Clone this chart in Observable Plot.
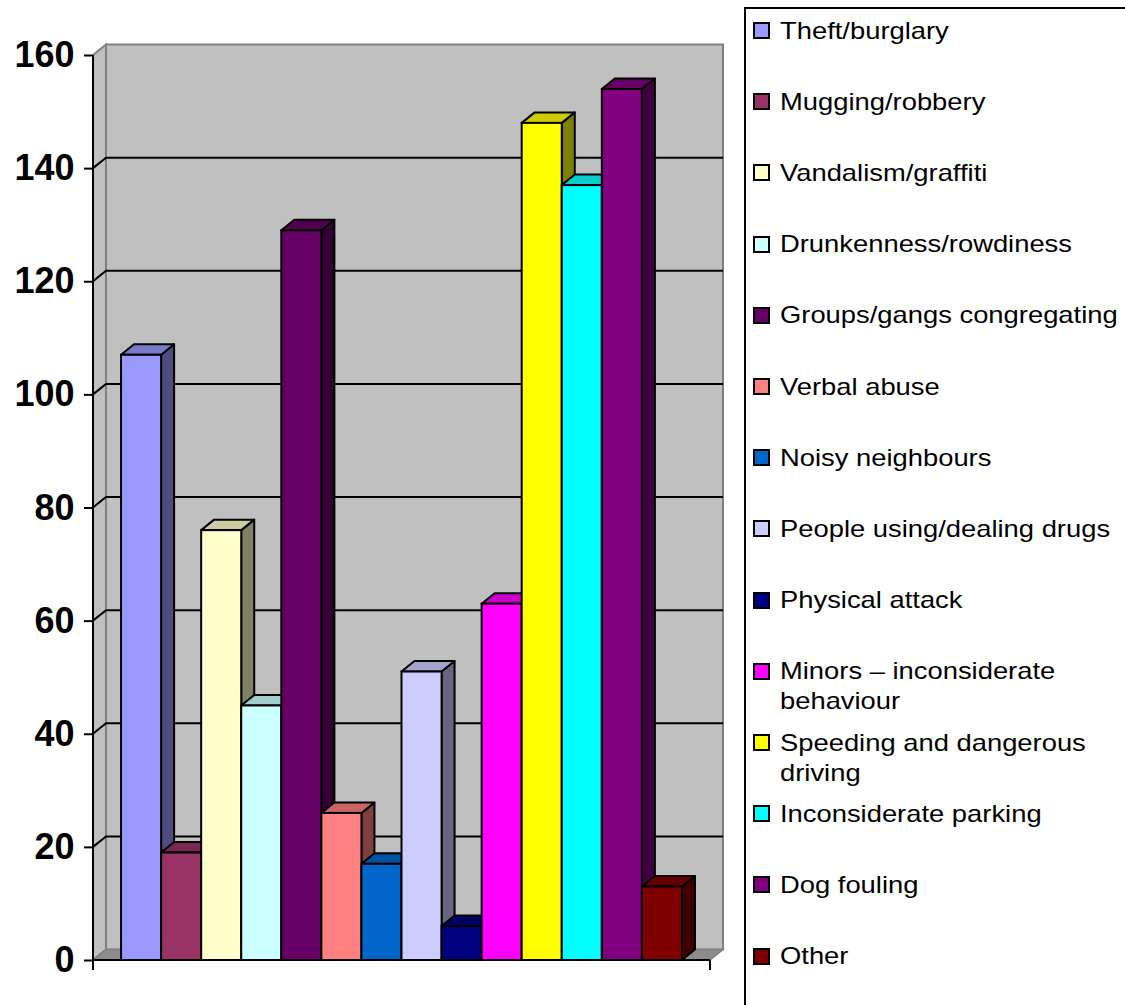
<!DOCTYPE html>
<html><head><meta charset="utf-8">
<script src="https://cdn.jsdelivr.net/npm/d3@7"></script>
<script src="https://cdn.jsdelivr.net/npm/@observablehq/plot@0.6"></script>
<style>
body{margin:0;background:#fff;font-family:"Liberation Sans",Arial,sans-serif;}
#wrap{position:relative;width:1125px;height:1005px;overflow:hidden;background:#fff;}
#chart{position:absolute;left:0;top:0;}
#legend{position:absolute;left:744px;top:7px;width:440px;height:1060px;border:2px solid #000;box-sizing:border-box;}
.sw{position:absolute;left:7px;width:17px;height:17px;border:2px solid #000;box-sizing:border-box;}
.lab{position:absolute;left:34px;width:305px;font-size:24px;line-height:30px;color:#000;transform:scaleX(1.14);transform-origin:0 0;white-space:normal;}
</style></head><body>
<div id="wrap"><div id="chart"></div><div id="legend"></div></div>
<script>
(function(){
const categories = ["Theft/burglary","Mugging/robbery","Vandalism/graffiti","Drunkenness/rowdiness","Groups/gangs congregating","Verbal abuse","Noisy neighbours","People using/dealing drugs","Physical attack","Minors – inconsiderate behaviour","Speeding and dangerous driving","Inconsiderate parking","Dog fouling","Other"];
const values = [107,19,76,45,129,26,17,51,6,63,148,137,154,13];
const colors = ["#9999FF","#993366","#FFFFCC","#CCFFFF","#660066","#FF8080","#0066CC","#CCCCFF","#000080","#FF00FF","#FFFF00","#00FFFF","#800080","#800000"];
const yTicks = [0,20,40,60,80,100,120,140,160];

const data = categories.map((c,i)=>({category:c, value:values[i]}));

const plot = Plot.plot({
  width:745, height:1005,
  marginLeft:93, marginRight:35, marginTop:55, marginBottom:45,
  x:{domain:categories, paddingInner:0, paddingOuter:0.7, round:false, axis:null},
  y:{domain:[0,160], axis:null},
  color:{domain:categories, range:colors},
  style:{fontFamily:'"Liberation Sans",Arial,sans-serif', background:"transparent", overflow:"visible"},
  marks:[
    Plot.axisY(yTicks,{tickSize:9, tickPadding:10, fontSize:36, fontWeight:"bold", strokeWidth:2, label:null, stroke:"#000", fill:"#000"}),
    Plot.barY(data,{x:"category", y:"value", fill:"category", stroke:"#000", strokeWidth:2})
  ]
});
document.getElementById("chart").appendChild(plot);

// 3D decoration using the plot's own scales
const xs = plot.scale("x"), ys = plot.scale("y");
const [X0, X1] = xs.range;
const Y0 = ys.apply(0), Y1 = ys.apply(160);
const DX = 13, DY = -10.5;
const ns = "http://www.w3.org/2000/svg";
const barsG = plot.querySelector('g[aria-label="bar"]');
const backG = document.createElementNS(ns,"g");
plot.insertBefore(backG, barsG);
const g = d3.select(backG);
const poly = pts => pts.map(p=>p.join(",")).join(" ");

g.append("rect").attr("x",X0+DX).attr("y",Y1+DY).attr("width",X1-X0).attr("height",Y0-Y1)
  .attr("fill","#C0C0C0").attr("stroke","#808080").attr("stroke-width",2);
g.append("polygon").attr("points",poly([[X0,Y1],[X0+DX,Y1+DY],[X0+DX,Y0+DY],[X0,Y0]]))
  .attr("fill","#C0C0C0").attr("stroke","#808080").attr("stroke-width",2);
g.append("polygon").attr("points",poly([[X0,Y0],[X0+DX,Y0+DY],[X1+DX,Y0+DY],[X1,Y0]]))
  .attr("fill","#8C8C8C").attr("stroke","#808080").attr("stroke-width",1.5);
yTicks.filter(t=>t>0 && t<160).forEach(t=>{
  const yy = ys.apply(t);
  g.append("polyline").attr("points",poly([[X0,yy],[X0+DX,yy+DY],[X1+DX,yy+DY]]))
   .attr("fill","none").attr("stroke","#000").attr("stroke-width",2);
});
const bw = xs.bandwidth;
const shade = (c,k)=>{const r=d3.rgb(c); return d3.rgb(r.r*k,r.g*k,r.b*k).formatHex();};
data.forEach((d,i)=>{
  const xa = xs.apply(d.category), xb = xa + bw, yv = ys.apply(d.value);
  g.append("polygon").attr("points",poly([[xb,yv],[xb+DX,yv+DY],[xb+DX,Y0+DY],[xb,Y0]]))
   .attr("fill",shade(colors[i],0.5)).attr("stroke","#000").attr("stroke-width",2).attr("stroke-linejoin","round");
});
data.forEach((d,i)=>{
  const xa = xs.apply(d.category), xb = xa + bw, yv = ys.apply(d.value);
  g.append("polygon").attr("points",poly([[xa,yv],[xa+DX,yv+DY],[xb+DX,yv+DY],[xb,yv]]))
   .attr("fill",shade(colors[i],0.8)).attr("stroke","#000").attr("stroke-width",2).attr("stroke-linejoin","round");
});
const axG = d3.select(plot).append("g").attr("stroke","#000").attr("stroke-width",2);
axG.append("line").attr("x1",X0).attr("x2",X0).attr("y1",Y1).attr("y2",Y0+10);
axG.append("line").attr("x1",X0).attr("x2",X1).attr("y1",Y0).attr("y2",Y0);
axG.append("line").attr("x1",X1).attr("x2",X1).attr("y1",Y0).attr("y2",Y0+10);

const legend = document.getElementById("legend");
categories.forEach((c,i)=>{
  const cy = 21.5 + i*71.2;
  const s = document.createElement("div");
  s.className="sw"; s.style.top=(cy-8.5)+"px"; s.style.background=colors[i];
  legend.appendChild(s);
  const t = document.createElement("div");
  t.className="lab"; t.style.top=(cy-15)+"px"; t.textContent=c;
  legend.appendChild(t);
});
})();
</script>
</body></html>
